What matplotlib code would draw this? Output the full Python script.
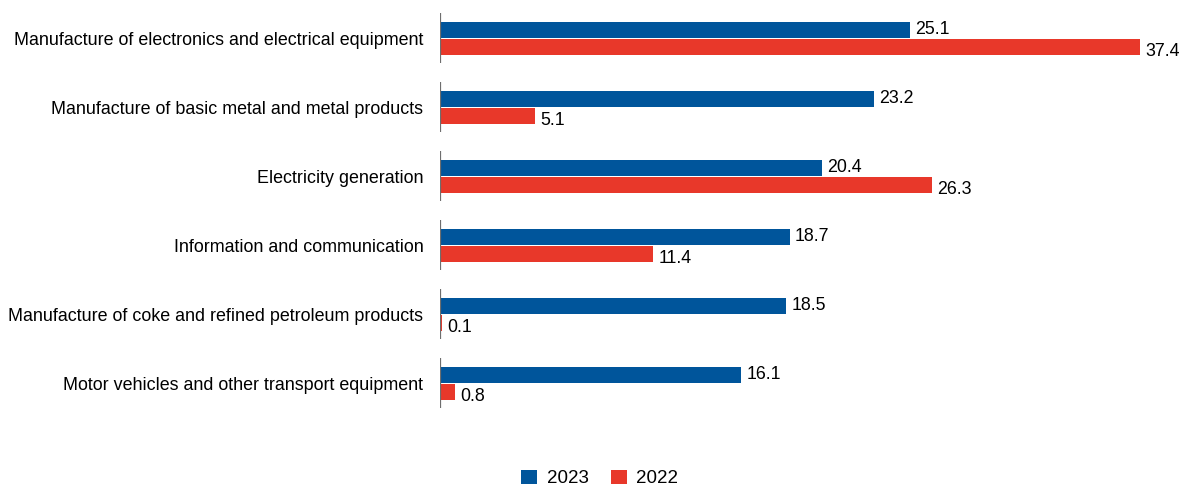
import matplotlib.pyplot as plt
import numpy as np
from matplotlib import font_manager

categories = [
    "Manufacture of electronics and electrical equipment",
    "Manufacture of basic metal and metal products",
    "Electricity generation",
    "Information and communication",
    "Manufacture of coke and refined petroleum products",
    "Motor vehicles and other transport equipment",
]
values_2023 = [25.1, 23.2, 20.4, 18.7, 18.5, 16.1]
values_2022 = [37.4, 5.1, 26.3, 11.4, 0.1, 0.8]
series_labels = ["2023", "2022"]

BLUE = "#00559b"
RED = "#e8382a"

names = {f.name for f in font_manager.fontManager.ttflist}
family = "Liberation Sans Narrow" if "Liberation Sans Narrow" in names else "Liberation Sans"
plt.rcParams["font.family"] = [family, "DejaVu Sans"]

W, H = 1181, 487
fig = plt.figure(figsize=(W / 100, H / 100), dpi=100)
left, right = 440, 1165
top, bottom = 4, 418
ax = fig.add_axes([left / W, (H - bottom) / H, (right - left) / W, (bottom - top) / H])

scale = 700 / 37.4  # px per unit
ax.set_xlim(0, (right - left) / scale)
ax.set_ylim(len(categories) - 0.5, -0.5)

y = np.arange(len(categories))
h = 0.235
off = 0.125
ax.barh(y - off, values_2023, height=h, color=BLUE, label=series_labels[0])
ax.barh(y + off, values_2022, height=h, color=RED, label=series_labels[1])

# short axis segment per category group
ax.vlines(np.zeros(len(y)), y - 0.37, y + 0.35, color="#6e6e6e", lw=1.6)

pad = 5 / scale
for yi, v in zip(y, values_2023):
    ax.text(v + pad, yi - off, f"{v:.1f}", va="center", ha="left", fontsize=12.8)
for yi, v in zip(y, values_2022):
    ax.text(v + pad, yi + off + 0.06, f"{v:.1f}", va="center", ha="left", fontsize=12.8)

ax.set_yticks(y)
ax.set_yticklabels(categories, fontsize=12.9)
ax.tick_params(axis="y", length=0, pad=12)
ax.set_xticks([])
for s in ax.spines.values():
    s.set_visible(False)

fig.legend(loc="lower center", bbox_to_anchor=(0.508, -0.026), ncol=2, frameon=False,
           fontsize=13.5, handlelength=0.85, handleheight=0.85, columnspacing=1.2,
           handletextpad=0.5, borderpad=0.15)

fig.savefig("out.png", dpi=100)
